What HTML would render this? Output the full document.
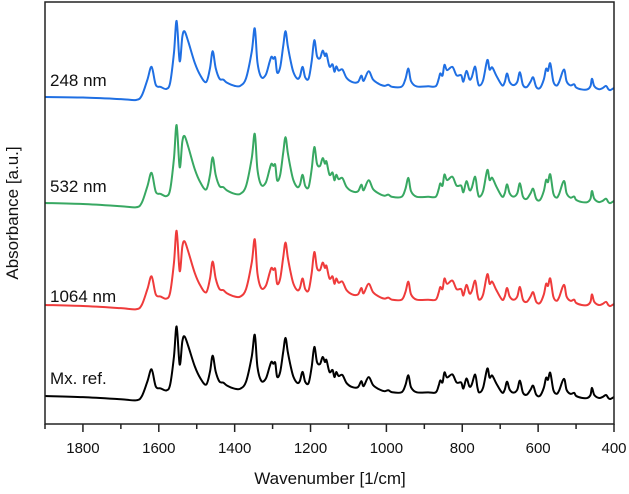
<!DOCTYPE html>
<html><head><meta charset="utf-8">
<style>
html,body{margin:0;padding:0;background:#fff;}
svg{display:block;font-family:"Liberation Sans",Arial,sans-serif;}
</style></head>
<body>
<svg id="chart" width="629" height="494" viewBox="0 0 629 494">
  <g id="series-layer"></g>
  <rect x="45" y="2" width="569" height="422" fill="none" stroke="#222" stroke-width="1.5"/>
  <g id="x-axis"></g>
  <text x="330" y="484" text-anchor="middle" font-size="17" fill="#111">Wavenumber [1/cm]</text>
  <text transform="translate(18,213) rotate(-90)" text-anchor="middle" font-size="17" fill="#111">Absorbance [a.u.]</text>
</svg>
<script>
// Shared spectrum shape: wavenumber (1/cm) and relative absorbance (baseline-corrected units)
const wavenumbers = [1900,1800,1700,1660,1645,1630,1619,1608,1595,1580,1570,1560,1553,1545,1538,1532,1522,1505,1490,1475,1465,1458,1450,1440,1430,1420,1400,1385,1370,1355,1347,1340,1330,1318,1308,1303,1298,1293,1288,1280,1272,1266,1260,1252,1245,1235,1228,1221,1214,1205,1197,1190,1183,1175,1168,1162,1158,1150,1142,1137,1132,1126,1116,1105,1090,1075,1066,1060,1047,1035,1020,1005,995,985,960,950,942,935,920,890,870,862,858,852,847,840,826,815,803,797,789,781,775,766,760,755,745,734,728,721,710,695,688,682,675,665,655,648,640,630,620,613,605,595,585,579,574,568,560,552,545,532,525,515,505,500,485,470,462,458,452,440,430,421,415,410,400];
const absorbance = [0,-1,-3,-4,0,15,27,10,8,6,12,40,70,32,55,60,50,30,18,12,25,41,25,15,14,11,8,8,15,40,62,30,16,18,30,35,33,34,20,25,45,59,45,30,20,14,16,25,15,14,30,50,35,33,40,35,37,25,27,20,25,21,22,14,10,10,16,11,20,12,8,6,7,5,5,12,22,10,5,5,5,12,17,15,25,20,23,15,15,9,19,11,13,23,10,5,10,29,20,22,14,5,8,16,8,5,8,17,5,3,8,12,3,2,10,20,18,25,8,4,7,19,8,4,5,2,0,0,3,10,3,0,1,3,0,-1,1];
// Series: names, baseline levels (y at 1900 and 400, in px-space units), intensity scale
const seriesNames = ["248 nm","532 nm","1064 nm","Mx. ref."];
const seriesColors = ["#1f6fe3","#38a862","#ef3b3b","#000000"];
const baselineLeft = [97,203,305,396];
const baselineRight = [89,202,305,398];
const intensityScale = [1.06,1.11,1.06,1.0];
const labelY = [86,192,302,384];
const xTicks = [1800,1600,1400,1200,1000,800,600,400];
const xMinorTicks = [1900,1700,1500,1300,1100,900,700,500];

const NS = "http://www.w3.org/2000/svg";
const X0 = 45, X1 = 614, WMAX = 1900, WMIN = 400;
function xScale(w){ return X0 + (WMAX - w) * (X1 - X0) / (WMAX - WMIN); }
function yScale(i, w, a){
  const t = (WMAX - w) / (WMAX - WMIN);
  const base = baselineLeft[i] + (baselineRight[i] - baselineLeft[i]) * t;
  return base - a * intensityScale[i];
}
function smoothPath(pts){
  let d = "M" + pts[0][0].toFixed(2) + "," + pts[0][1].toFixed(2);
  for (let k = 0; k < pts.length - 1; k++){
    const p0 = pts[Math.max(0, k-1)], p1 = pts[k], p2 = pts[k+1], p3 = pts[Math.min(pts.length-1, k+2)];
    const c1x = p1[0] + (p2[0]-p0[0])/6, c1y = p1[1] + (p2[1]-p0[1])/6;
    const c2x = p2[0] - (p3[0]-p1[0])/6, c2y = p2[1] - (p3[1]-p1[1])/6;
    d += "C" + c1x.toFixed(2) + "," + c1y.toFixed(2) + " " + c2x.toFixed(2) + "," + c2y.toFixed(2) + " " + p2[0].toFixed(2) + "," + p2[1].toFixed(2);
  }
  return d;
}

const layer = document.getElementById("series-layer");
seriesNames.forEach((name, i) => {
  const pts = wavenumbers.map((w, k) => [xScale(w), yScale(i, w, absorbance[k])]);
  const p = document.createElementNS(NS, "path");
  p.setAttribute("d", smoothPath(pts));
  p.setAttribute("fill", "none");
  p.setAttribute("stroke", seriesColors[i]);
  p.setAttribute("stroke-width", "2");
  p.setAttribute("stroke-linejoin", "round");
  
  
  layer.appendChild(p);
  const t = document.createElementNS(NS, "text");
  t.setAttribute("x", 50);
  t.setAttribute("y", labelY[i]);
  t.setAttribute("font-size", "17");
  t.setAttribute("fill", "#111");
  t.textContent = name;
  
  
  layer.appendChild(t);
});

const ax = document.getElementById("x-axis");
xTicks.forEach(v => {
  const x = xScale(v);
  const l = document.createElementNS(NS, "line");
  l.setAttribute("x1", x); l.setAttribute("x2", x);
  l.setAttribute("y1", 424); l.setAttribute("y2", 432);
  l.setAttribute("stroke", "#222"); l.setAttribute("stroke-width", "1.5");
  
  
  ax.appendChild(l);
  const t = document.createElementNS(NS, "text");
  t.setAttribute("x", x); t.setAttribute("y", 453);
  t.setAttribute("text-anchor", "middle");
  t.setAttribute("font-size", "15"); t.setAttribute("fill", "#111");
  t.textContent = v;
  
  
  ax.appendChild(t);
});
xMinorTicks.forEach(v => {
  const x = xScale(v);
  const l = document.createElementNS(NS, "line");
  l.setAttribute("x1", x); l.setAttribute("x2", x);
  l.setAttribute("y1", 424); l.setAttribute("y2", 429);
  l.setAttribute("stroke", "#222"); l.setAttribute("stroke-width", "1.5");
  
  
  ax.appendChild(l);
});
</script>
</body></html>
